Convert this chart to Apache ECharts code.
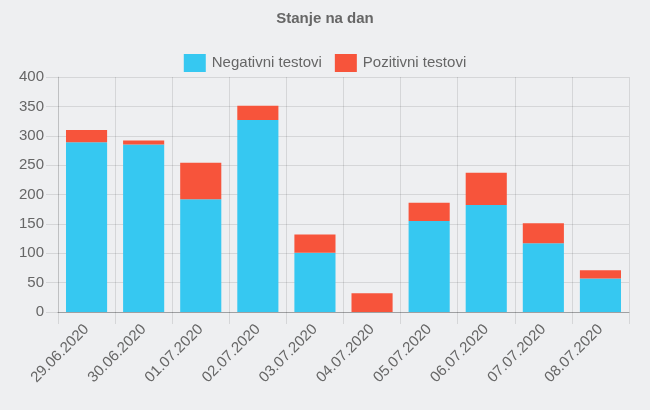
<!DOCTYPE html>
<html>
<head>
<meta charset="utf-8">
<script src="https://cdn.jsdelivr.net/npm/echarts@6/dist/echarts.min.js"></script>
<style>
html,body{margin:0;padding:0;background:#eeeff1;}
#c{width:650px;height:410px;}
</style>
</head>
<body>
<div id="c"></div>
<script>
const dates = ['29.06.2020','30.06.2020','01.07.2020','02.07.2020','03.07.2020','04.07.2020','05.07.2020','06.07.2020','07.07.2020','08.07.2020'];
const negativni = [289, 285, 192, 327, 101, 0, 155, 182, 117, 57];
const pozitivni = [21, 7, 62, 24, 31, 32, 31, 55, 34, 14];
const yTicks = [0, 50, 100, 150, 200, 250, 300, 350, 400];

const chart = echarts.init(document.getElementById('c'));
const font = 'Liberation Sans, Arial, Helvetica, sans-serif';
const grid = 'rgba(0,0,0,0.1)';
chart.setOption({
  backgroundColor: '#eeeff1',
  animation: false,
  title: {
    text: 'Stanje na dan', left: 'center', top: 6,
    textStyle: {fontFamily: font, fontSize: 15, fontWeight: 'bold', color: '#666'}
  },
  legend: {
    top: 49, left: 'center', itemWidth: 22, itemHeight: 18, itemGap: 13,
    icon: 'rect',
    textStyle: {fontFamily: font, fontSize: 15, color: '#666', padding: [0, 0, 0, 1]},
    data: ['Negativni testovi', 'Pozitivni testovi']
  },
  grid: {left: 58, right: 21, top: 77, bottom: 98, containLabel: false},
  xAxis: {
    type: 'category', data: dates, boundaryGap: true,
    axisLine: {show: true, lineStyle: {color: 'rgba(0,0,0,0.25)'}},
    axisTick: {show: true, length: 12, lineStyle: {color: grid}},
    splitLine: {show: true, lineStyle: {color: grid}},
    axisLabel: {rotate: 45, fontFamily: font, fontSize: 15, color: '#666', margin: 15, interval: 0}
  },
  yAxis: {
    type: 'value', min: 0, max: 400, interval: 50,
    axisLine: {show: true, lineStyle: {color: grid}},
    axisTick: {show: true, length: 12, lineStyle: {color: grid}},
    splitLine: {show: true, lineStyle: {color: grid}},
    axisLabel: {fontFamily: font, fontSize: 15, color: '#666', margin: 14,
      formatter: v => yTicks.includes(v) ? String(v) : ''}
  },
  series: [
    {name: 'Negativni testovi', type: 'bar', stack: 't', data: negativni, barWidth: '72%',
     itemStyle: {color: '#36c8f1'}},
    {name: 'Pozitivni testovi', type: 'bar', stack: 't', data: pozitivni, barWidth: '72%',
     itemStyle: {color: '#f7543b'}}
  ]
});
</script>
</body>
</html>
